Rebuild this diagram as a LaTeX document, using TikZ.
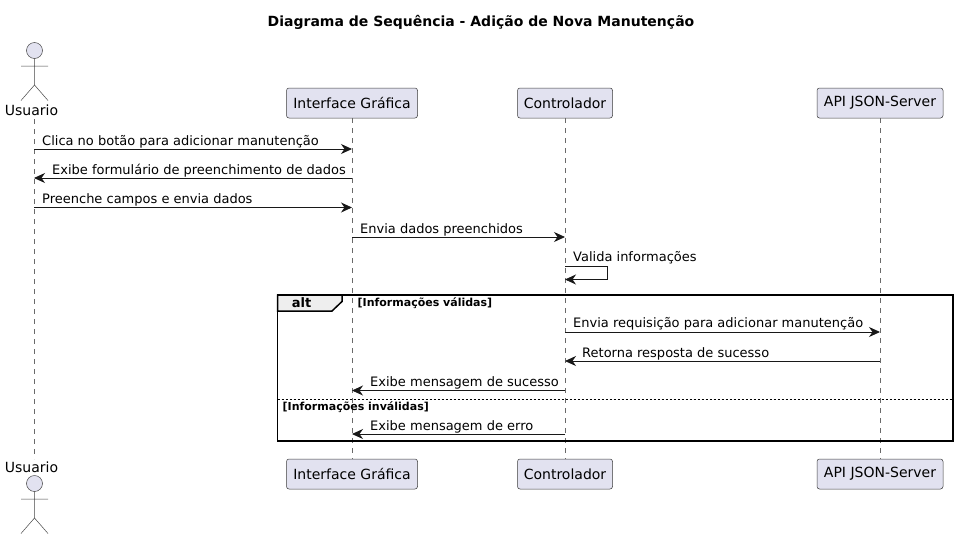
\documentclass[tikz,border=0pt]{standalone}
\usepackage{fontspec}
\setmainfont{DejaVu Sans}
\usetikzlibrary{arrows.meta,calc}
\definecolor{pfill}{HTML}{E2E2F0}
\definecolor{pline}{HTML}{181818}
\definecolor{tabfill}{HTML}{EEEEEE}
\tikzset{
  part/.style={draw=pline!85,fill=pfill,line width=0.5pt,rounded corners=2.5pt,minimum height=30pt,anchor=center,inner sep=0pt,font=\fontsize{14}{16}\selectfont,text=black},
  actlabel/.style={inner sep=0pt,font=\fontsize{14}{16}\selectfont,text=black},
  life/.style={draw=pline!65,line width=0.45pt,dash pattern=on 5pt off 5pt},
  msg/.style={draw=pline,line width=0.85pt,-{Stealth[length=11pt,width=10pt,inset=3.5pt]}},
  msgtext/.style={inner sep=0pt,anchor=base west,font=\fontsize{13}{15}\selectfont,text=black},
  guard/.style={inner sep=0pt,anchor=base west,font=\bfseries\fontsize{11}{13}\selectfont,text=black},
  stick/.style={draw=pline!80,line width=0.5pt},
  frameline/.style={draw=black,line width=1.5pt},
}
\begin{document}
\begin{tikzpicture}[x=1pt,y=-1pt]
\useasboundingbox (0,0) rectangle (958,539);
\fill[white] (0,0) rectangle (958,539);
\node[inner sep=0pt,font=\bfseries\fontsize{14}{16}\selectfont] (title) at (481,22.5) {Diagrama de Sequência - Adição de Nova Manutenção};

% lifeline ends
\coordinate (ut) at (34,119);
\coordinate (ub) at (34,459);
\node[part,minimum width=131pt] (it) at (352,103) {Interface Gráfica};
\node[part,minimum width=95pt] (ct) at (565,103) {Controlador};
\node[part,minimum width=126pt] (at) at (880,103) {API JSON-Server};
\node[part,minimum width=131pt] (ib) at (352,474) {Interface Gráfica};
\node[part,minimum width=95pt] (cb) at (565,474) {Controlador};
\node[part,minimum width=126pt] (ab) at (880,474) {API JSON-Server};

\draw[life] (ut) -- (ub);
\draw[life] (it) -- (ib);
\draw[life] (ct) -- (cb);
\draw[life] (at) -- (ab);

% actors
\node[actlabel] (ulabt) at (31.5,110) {Usuario};
\node[actlabel] (ulabb) at (31.5,467) {Usuario};
\draw[stick,fill=pfill] (34.5,50.5) circle (8);
\draw[stick] (34.5,58.5) -- (34.5,85) (21,66) -- (48,66) (21,100.5) -- (34.5,85) -- (48,100.5);
\draw[stick,fill=pfill] (34.5,483.5) circle (8);
\draw[stick] (34.5,491.5) -- (34.5,518) (21,499) -- (48,499) (21,533.5) -- (34.5,518) -- (48,533.5);

% messages
\draw[msg] (ut |- 0,149) -- (it |- 0,149);
\node[msgtext] (m1) at (42,145) {Clica no botão para adicionar manutenção};
\draw[msg] (it |- 0,178) -- (ut |- 0,178);
\node[msgtext] (m2) at (52,174) {Exibe formulário de preenchimento de dados};
\draw[msg] (ut |- 0,207.5) -- (it |- 0,207.5);
\node[msgtext] (m3) at (42,203.5) {Preenche campos e envia dados};
\draw[msg] (it |- 0,237) -- (ct |- 0,237);
\node[msgtext] (m4) at (360,233) {Envia dados preenchidos};
\draw[msg] (ct |- 0,266) -- (607,266) -- (607,279.5) -- (ct |- 0,279.5);
\node[msgtext] (m5) at (573,261.5) {Valida informações};

% alt frame
\draw[frameline,fill=tabfill] (277.5,295) -- (342,295) -- (342,301.5) -- (332,311) -- (277.5,311) -- cycle;
\draw[frameline] (277.5,295) rectangle (953,441);
\node[inner sep=0pt,font=\bfseries\fontsize{13}{15}\selectfont] (alt) at (301.5,303) {alt};
\node[guard] (g1) at (357.5,306) {[Informações válidas]};
\draw[draw=black,line width=0.7pt,dash pattern=on 2pt off 2pt] (277.5,399) -- (953,399);
\node[guard] (g2) at (282.5,410) {[Informações inválidas]};

\draw[msg] (ct |- 0,332) -- (at |- 0,332);
\node[msgtext] (m6) at (573,327.5) {Envia requisição para adicionar manutenção};
\draw[msg] (at |- 0,361) -- (ct |- 0,361);
\node[msgtext] (m7) at (582,357) {Retorna resposta de sucesso};
\draw[msg] (ct |- 0,390.5) -- (it |- 0,390.5);
\node[msgtext] (m8) at (370,386) {Exibe mensagem de sucesso};
\draw[msg] (ct |- 0,434) -- (it |- 0,434);
\node[msgtext] (m9) at (370,430) {Exibe mensagem de erro};
\end{tikzpicture}
\end{document}
